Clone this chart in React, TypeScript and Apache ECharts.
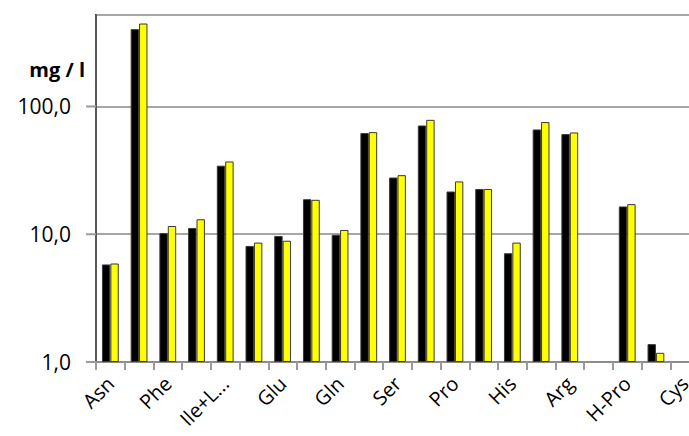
import React, { useEffect, useRef } from "react";
import * as echarts from "echarts";

const categories = ["Asn", "Asp", "Phe", "Trp", "Ile+Leu", "Val", "Glu", "Thr", "Gln", "Gly", "Ser", "Ala", "Pro", "Tyr", "His", "Met", "Arg", "Orn", "H-Pro", "Lys", "Cys"];
const seriesA = [5.8, 403, 10.2, 11.2, 34.4, 8.1, 9.7, 18.8, 9.9, 61.9, 27.8, 71.0, 21.6, 22.6, 7.1, 66.1, 60.8, null, 16.5, 1.38, null];
const seriesB = [5.9, 446, 11.6, 13.1, 37.1, 8.6, 8.9, 18.6, 10.8, 63.0, 29.0, 78.6, 25.9, 22.6, 8.6, 75.5, 62.6, null, 17.2, 1.18, null];
const yTicks = [1, 10, 100];
const yTitle = "mg / l";

export default function App() {
  const ref = useRef<HTMLDivElement>(null);
  useEffect(() => {
    if (!ref.current) return;
    const chart = echarts.init(ref.current, undefined, { renderer: "svg" });
    const font = "'Open Sans', sans-serif";
    chart.setOption({
      animation: false,
      backgroundColor: "#ffffff",
      grid: {
        left: 96,
        top: 15,
        width: 603,
        bottom: 74,
        show: true,
        borderColor: "#000000",
        borderWidth: 2,
        outerBoundsMode: "none",
      },
      xAxis: {
        type: "category",
        data: categories,
        axisLine: { show: true, lineStyle: { color: "#8c8c8c", width: 2 } },
        axisTick: { show: true, interval: 0, length: 8, lineStyle: { color: "#9a9a9a", width: 2 } },
        axisLabel: {
          interval: 1,
          rotate: 45,
          margin: 18,
          fontFamily: font,
          fontSize: 20,
          color: "#000000",
          formatter: (v: string) => (v.length > 6 ? v.slice(0, 5) + "..." : v),
        },
        splitLine: { show: false },
      },
      yAxis: {
        type: "log",
        logBase: 10,
        min: 1,
        max: 520,
        axisLine: { show: true, lineStyle: { color: "#595959", width: 2 } },
        axisTick: { show: false },
        axisLabel: {
          margin: 25,
          fontFamily: font,
          fontSize: 21,
          color: "#000000",
          showMaxLabel: false,
          formatter: (v: number) => v.toFixed(1).replace(".", ","),
        },
        splitLine: { show: true, lineStyle: { color: "#a6a6a6", width: 2 } },
      },
      series: [
        {
          type: "bar",
          name: "A",
          data: seriesA,
          barWidth: 8.4,
          barGap: "0%",
          itemStyle: { color: "#000000", borderColor: "#3a3a3a", borderWidth: 1 },
        },
        {
          type: "bar",
          name: "B",
          data: seriesB,
          barWidth: 8.4,
          barGap: "0%",
          itemStyle: { color: "#ffff00", borderColor: "#3a3a2a", borderWidth: 1 },
        },
      ],
    });

    // y-axis tick marks at the decades, placed through the library's own scales
    const c0 = chart.convertToPixel({ xAxisIndex: 0 }, 0) as number;
    const c1 = chart.convertToPixel({ xAxisIndex: 0 }, 1) as number;
    const left = c0 - (c1 - c0) / 2;
    const elements: any[] = [];
    yTicks.forEach((v, i) => {
      const y = chart.convertToPixel({ yAxisIndex: 0 }, v) as number;
      elements.push({
        type: "line",
        id: "yt" + i,
        z: 50,
        shape: { x1: left - 10, y1: y, x2: left, y2: y },
        style: { stroke: "#9a9a9a", lineWidth: 2 },
      });
    });
    elements.push({
      type: "text",
      id: "ytitle",
      x: 85,
      y: 69,
      style: {
        text: yTitle,
        fontFamily: font,
        fontWeight: "bold",
        fontSize: 20,
        fill: "#000000",
        align: "right",
        verticalAlign: "middle",
      },
    });
    chart.setOption({ graphic: elements });
    return () => chart.dispose();
  }, []);
  return (
    <div
      ref={ref}
      style={{ position: "fixed", left: 0, top: 0, width: 689, height: 436, background: "#fff" }}
    />
  );
}
